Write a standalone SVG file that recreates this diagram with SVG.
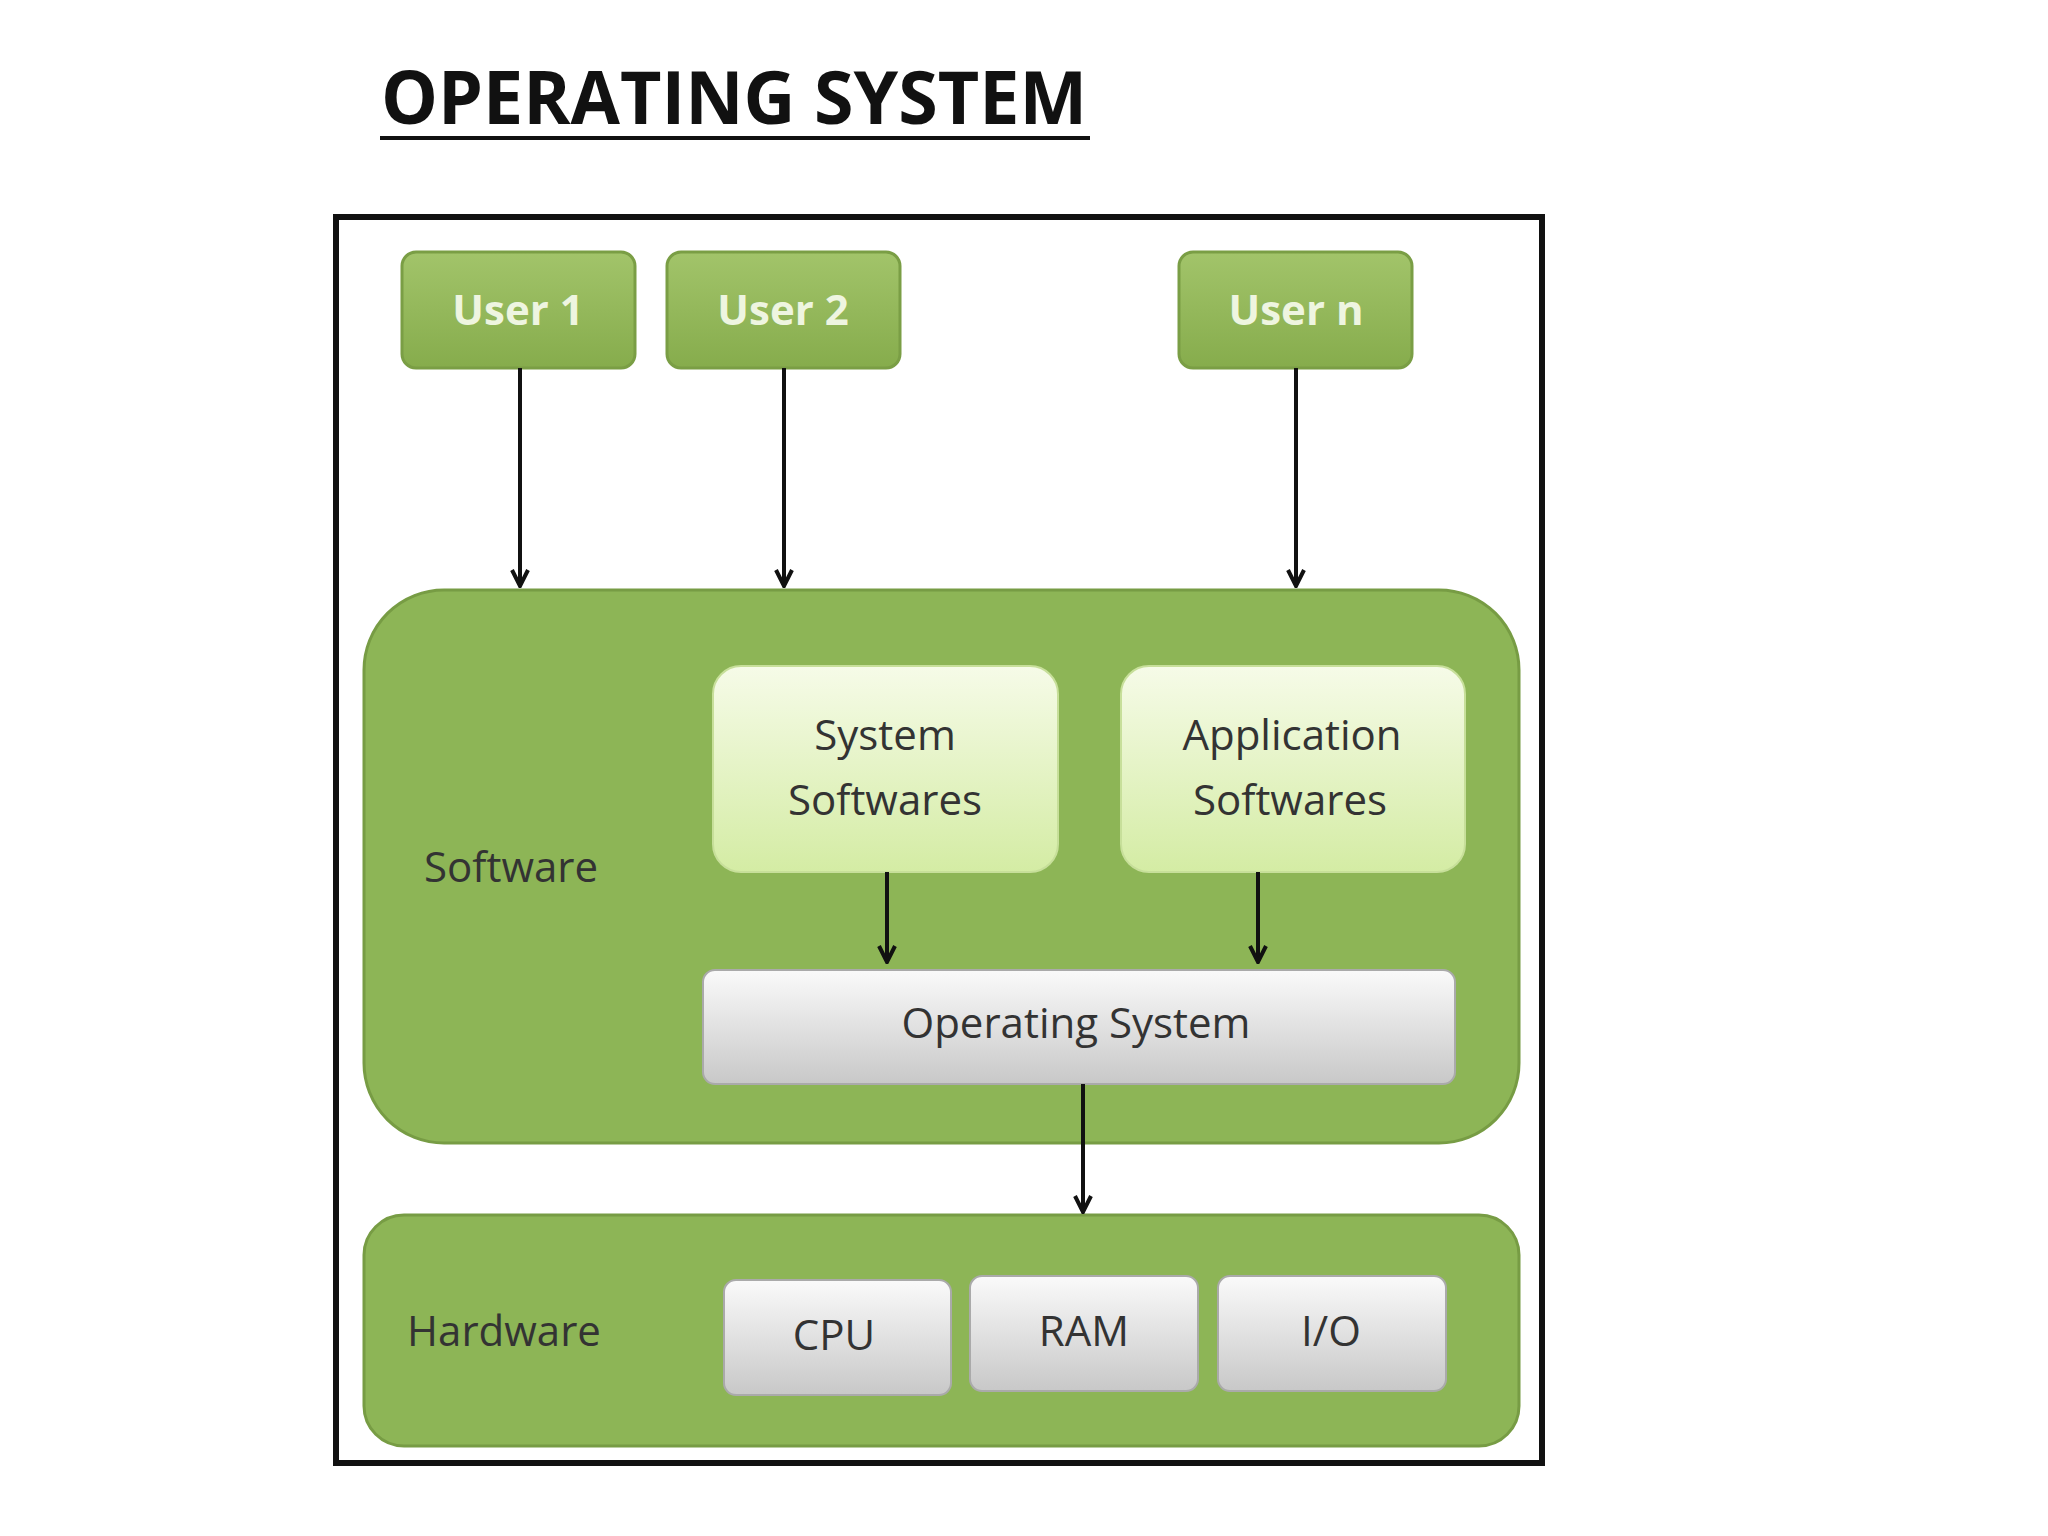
<svg xmlns="http://www.w3.org/2000/svg" width="2048" height="1536" viewBox="0 0 2048 1536">
<defs>
<linearGradient id="gUser" x1="0" y1="0" x2="0" y2="1"><stop offset="0" stop-color="#a2c46a"/><stop offset="1" stop-color="#86ac4c"/></linearGradient>
<linearGradient id="gLight" x1="0" y1="0" x2="0" y2="1"><stop offset="0" stop-color="#f6fbe8"/><stop offset="1" stop-color="#d4eca4"/></linearGradient>
<linearGradient id="gGrey" x1="0" y1="0" x2="0" y2="1"><stop offset="0" stop-color="#fafafa"/><stop offset="1" stop-color="#c8c8c8"/></linearGradient>
<marker id="ah" viewBox="0 0 10 10" refX="9" refY="5" markerWidth="5" markerHeight="5" orient="auto"><path d="M1,1 L9,5 L1,9" fill="none" stroke="#111" stroke-width="2"/></marker>
<style>
.user{fill:url(#gUser);stroke:#7a9e45;stroke-width:3}
.big{fill:#8db556;stroke:#779c44;stroke-width:3}
.light{fill:url(#gLight);stroke:#c7df9a;stroke-width:2}
.grey{fill:url(#gGrey);stroke:#aaa;stroke-width:2}
.t{font-family:"Open Sans","DejaVu Sans",sans-serif;font-size:42px;text-anchor:middle;fill:#333}
.tu{font-family:"Open Sans","DejaVu Sans",sans-serif;font-size:42px;text-anchor:middle;fill:#eef5e0;font-weight:bold}
.c{stroke:#111;stroke-width:4;fill:none;marker-end:url(#ah)}
</style>
</defs>
<rect width="2048" height="1536" fill="#fff"/>
<text x="734" y="124" font-family="Open Sans, sans-serif" font-weight="bold" font-size="74" text-anchor="middle" textLength="706" lengthAdjust="spacingAndGlyphs" fill="#111">OPERATING SYSTEM</text>
<line x1="380" y1="138" x2="1090" y2="138" stroke="#111" stroke-width="4"/>
<rect x="336" y="217" width="1206" height="1246" fill="#fff" stroke="#111" stroke-width="6"/>
<g id="user1"><rect class="user" x="402" y="252" width="233" height="116" rx="14"/><text class="tu" x="518" y="325">User 1</text></g>
<g id="user2"><rect class="user" x="667" y="252" width="233" height="116" rx="14"/><text class="tu" x="783" y="325">User 2</text></g>
<g id="usern"><rect class="user" x="1179" y="252" width="233" height="116" rx="14"/><text class="tu" x="1296" y="325">User n</text></g>
<g id="software"><rect class="big" x="364" y="590" width="1155" height="553" rx="80"/><text class="t" x="511" y="882">Software</text></g>
<g id="syssw"><rect class="light" x="713" y="666" width="345" height="206" rx="28"/><text class="t" x="885" y="750">System</text><text class="t" x="885" y="815">Softwares</text></g>
<g id="appsw"><rect class="light" x="1121" y="666" width="344" height="206" rx="28"/><text class="t" x="1292" y="750">Application</text><text class="t" x="1290" y="815">Softwares</text></g>
<g id="os"><rect class="grey" x="703" y="970" width="752" height="114" rx="12"/><text class="t" x="1076" y="1038">Operating System</text></g>
<g id="hardware"><rect class="big" x="364" y="1215" width="1155" height="231" rx="40"/><text class="t" x="504" y="1346">Hardware</text></g>
<g id="cpu"><rect class="grey" x="724" y="1280" width="227" height="115" rx="12"/><text class="t" x="834" y="1350">CPU</text></g>
<g id="ram"><rect class="grey" x="970" y="1276" width="228" height="115" rx="12"/><text class="t" x="1084" y="1346">RAM</text></g>
<g id="io"><rect class="grey" x="1218" y="1276" width="228" height="115" rx="12"/><text class="t" x="1331" y="1346">I/O</text></g>
<g id="connectors">
<line class="c" x1="520" y1="368" x2="520" y2="586"/>
<line class="c" x1="784" y1="368" x2="784" y2="586"/>
<line class="c" x1="1296" y1="368" x2="1296" y2="586"/>
<line class="c" x1="887" y1="872" x2="887" y2="962" stroke-width="6"/>
<line class="c" x1="1258" y1="872" x2="1258" y2="962" stroke-width="6"/>
<line class="c" x1="1083" y1="1084" x2="1083" y2="1212"/>
</g>
</svg>
